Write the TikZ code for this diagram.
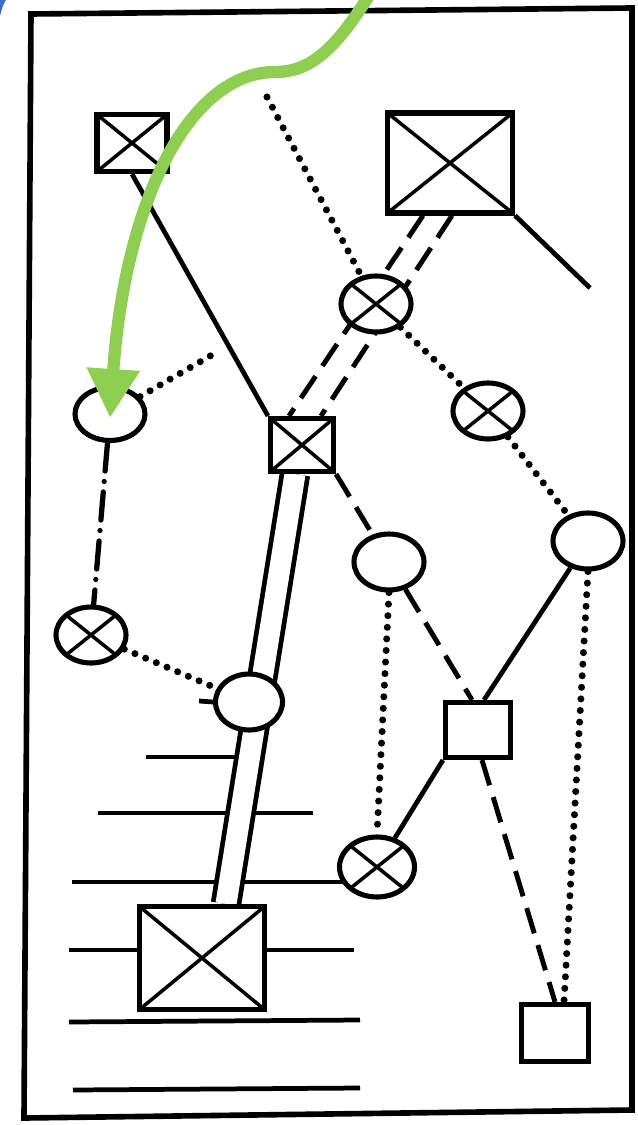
\documentclass[tikz,border=0pt]{standalone}
\usetikzlibrary{arrows.meta,shapes.geometric,backgrounds}
\definecolor{arrowgreen}{RGB}{142,206,80}
\definecolor{cornerblue}{RGB}{60,110,200}
\begin{document}
\begin{tikzpicture}[x=0.02cm,y=-0.02cm,
 xline/.style={line width=2pt},
 pbox/.style={draw,line width=2.9pt,fill=white,rectangle,inner sep=0pt},
 xbox/.style={pbox,path picture={\draw[xline] (path picture bounding box.north west)--(path picture bounding box.south east) (path picture bounding box.north east)--(path picture bounding box.south west);}},
 pcirc/.style={draw,line width=2.9pt,fill=white,ellipse,inner sep=0pt,minimum width=1.4cm,minimum height=1.12cm},
 xcirc/.style={pcirc,path picture={\draw[xline] (path picture bounding box.north west)--(path picture bounding box.south east) (path picture bounding box.north east)--(path picture bounding box.south west);}},
 solidline/.style={line width=2.7pt},
 dotline/.style={line width=4pt,line cap=round,dash pattern=on 0pt off 6.6pt},
 dashline/.style={line width=2.8pt,dash pattern=on 15pt off 7pt},
 dashdotline/.style={line width=3pt,line cap=round,dash pattern=on 16pt off 6pt on 0pt off 6pt},
 twinline/.style={double,line width=2.7pt,double distance=0.42cm}]
\useasboundingbox (0,0) rectangle (638,1125);
\node[xbox,minimum width=1.4cm,minimum height=1.14cm] (sqa) at (132,143) {};
\node[xbox,minimum width=2.5cm,minimum height=2cm] (sqb) at (450,163) {};
\node[xcirc] (ca) at (376,304) {};
\node[xbox,minimum width=1.26cm,minimum height=1.06cm] (sqm) at (302,445) {};
\node[xcirc] (cb) at (488,411) {};
\node[pcirc] (cc) at (588,541) {};
\node[pcirc,minimum height=1.06cm] (cd) at (110,414) {};
\node[pcirc] (cj) at (389,562) {};
\node[xcirc] (ce) at (91,635) {};
\node[pcirc,minimum width=1.34cm] (cf) at (249,702) {};
\node[pbox,minimum width=1.3cm,minimum height=1.1cm] (sqh) at (478,730) {};
\node[xcirc,minimum width=1.5cm,minimum height=1.2cm] (cg) at (377,867) {};
\node[xbox,minimum width=2.5cm,minimum height=2.06cm] (sqc) at (202,958) {};
\node[pbox,minimum width=1.34cm,minimum height=1.14cm] (sqi) at (555,1033) {};
\coordinate (dtop) at (267,97);\coordinate (send) at (590,288);\coordinate (dend) at (217,352);
\begin{scope}[on background layer]
\draw[line width=3.2pt] (31,14)--(632,8)--(632,1110)--(24,1118)--cycle;
\draw[solidline] (sqa.south)--(sqm.north west);\draw[solidline] (sqb.south east)--(send);
\draw[dotline] (dtop)--(ca);\draw[dotline] (ca)--(cb);\draw[dotline] (cb)--(cc);
\draw[dashline] ([xshift=-0.54cm]sqb.south)--([xshift=-0.26cm]sqm.north);
\draw[dashline] ([xshift=0.04cm]sqb.south)--([xshift=0.38cm]sqm.north);
\draw[dotline] (cd)--(dend);\draw[dashdotline] (cd)--(ce);\draw[dotline] (ce)--(cf);
\draw[solidline] (146,757)--(240,757);\draw[solidline] (98,813)--(313,813);\draw[solidline] (72,882)--(360,882);
\draw[solidline] (69,950)--(354,950);\draw[solidline] (69,1022)--(360,1020);\draw[solidline] (73,1090)--(360,1088);
\draw[solidline] (199,701)--(cf.west);
\draw[twinline] ([xshift=-0.14cm]sqm.south)--([xshift=0.48cm]sqc.north);
\draw[dashline] (sqm.south east)--(cj);\draw[dashline] (cj)--([xshift=-0.12cm]sqh.north);
\draw[dotline] (cj.south)--(cg.north);
\draw[solidline] (cc)--([xshift=0.12cm]sqh.north);\draw[dotline] (cc.south)--([xshift=0.18cm]sqi.north);
\draw[solidline] (sqh.south west)--(cg);\draw[dashline] ([xshift=0.08cm]sqh.south)--(sqi.north);
\end{scope}
\fill[cornerblue] (0,0)--(6,0) .. controls (3,5) .. (0,16)--cycle;
\draw[arrowgreen,line width=7pt,-{Triangle[length=0.98cm,width=1cm]}] (370,-6) .. controls (335,50) and (310,72) .. (275,72) .. controls (190,72) and (125,200) .. (110,418);
\end{tikzpicture}
\end{document}
